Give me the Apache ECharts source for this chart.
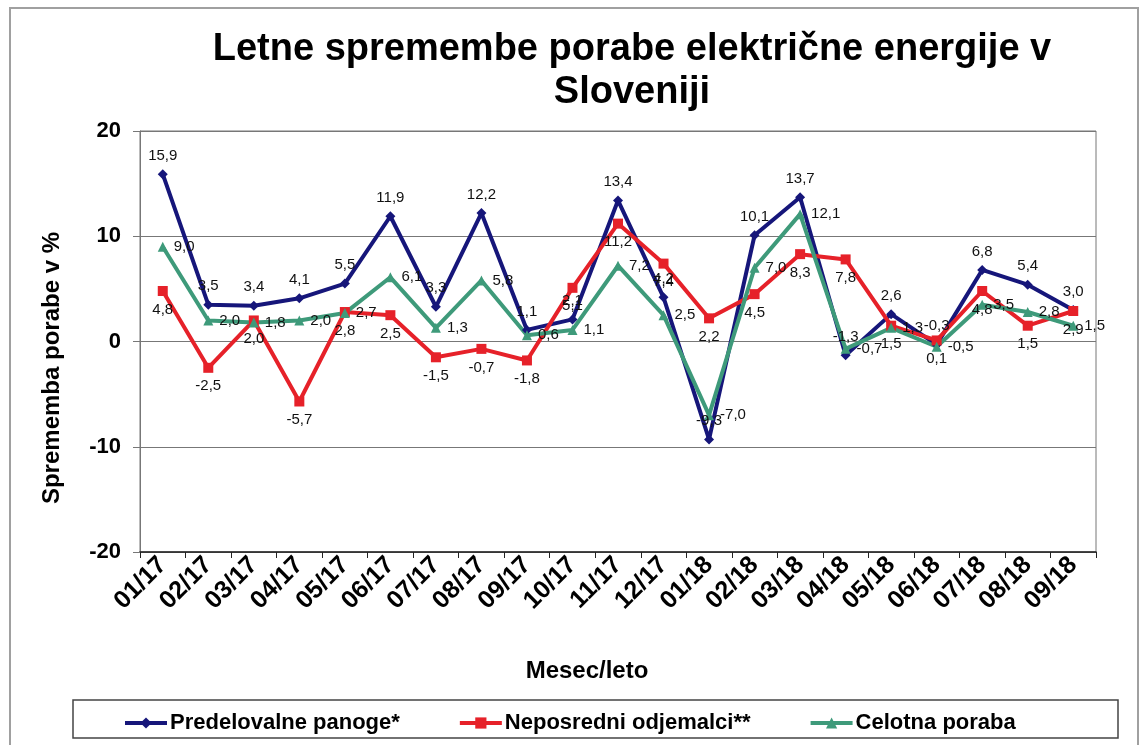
<!DOCTYPE html>
<html>
<head>
<meta charset="utf-8">
<script src="https://cdn.jsdelivr.net/npm/echarts@6/dist/echarts.min.js"></script>
<style>
html,body{margin:0;padding:0;background:#fff;}
#chart{width:1147px;height:745px;}
</style>
</head>
<body>
<div id="chart"></div>
<script>
const categories = ['01/17','02/17','03/17','04/17','05/17','06/17','07/17','08/17','09/17','10/17','11/17','12/17','01/18','02/18','03/18','04/18','05/18','06/18','07/18','08/18','09/18'];
const predelovalne = [15.9, 3.5, 3.4, 4.1, 5.5, 11.9, 3.3, 12.2, 1.1, 2.1, 13.4, 4.2, -9.3, 10.1, 13.7, -1.3, 2.6, -0.3, 6.8, 5.4, 3.0];
const neposredni  = [4.8, -2.5, 2.0, -5.7, 2.8, 2.5, -1.5, -0.7, -1.8, 5.1, 11.2, 7.4, 2.2, 4.5, 8.3, 7.8, 1.5, 0.1, 4.8, 1.5, 2.9];
const celotna     = [9.0, 2.0, 1.8, 2.0, 2.7, 6.1, 1.3, 5.8, 0.6, 1.1, 7.2, 2.5, -7.0, 7.0, 12.1, -0.7, 1.3, -0.5, 3.5, 2.8, 1.5];
const seriesNames = ['Predelovalne panoge*', 'Neposredni odjemalci**', 'Celotna poraba'];
const yTicks = [-20, -10, 0, 10, 20];
const titleText = 'Letne spremembe porabe električne energije v\nSloveniji';
const xAxisTitle = 'Mesec/leto';
const yAxisTitle = 'Sprememba porabe v %';

const FONT = '"Liberation Sans", Arial, sans-serif';
const fmt = v => v.toFixed(1).replace('.', ',');

const chart = echarts.init(document.getElementById('chart'));

function lineSeries(name, data, color, symbol, pos) {
  return {
    name: name,
    type: 'line',
    data: data,
    symbol: symbol,
    symbolSize: 10,
    lineStyle: { color: color, width: 4 },
    itemStyle: { color: color },
    label: {
      show: true,
      position: pos,
      distance: 6,
      color: '#111',
      fontFamily: FONT,
      fontSize: 15,
      formatter: p => fmt(p.value)
    },
    z: 3
  };
}

chart.setOption({
  animation: false,
  backgroundColor: '#fff',
  title: {
    text: titleText,
    left: 627,
    top: 23,
    textAlign: 'center',
    textStyle: { fontFamily: FONT, fontSize: 38, fontWeight: 'bold', color: '#000', lineHeight: 43 }
  },
  graphic: [
    { type: 'rect', shape: { x: 10, y: 8, width: 1128, height: 780 }, style: { fill: 'none', stroke: '#a0a0a0', lineWidth: 2 }, silent: true, z: -1 },
    { type: 'rect', shape: { x: 73, y: 700, width: 1045, height: 38 }, style: { fill: '#fff', stroke: '#444', lineWidth: 1.5 }, silent: true, z: 0 },
    { type: 'text', x: 52, y: 368, rotation: Math.PI / 2,
      style: { text: yAxisTitle, fontFamily: FONT, fontSize: 24, fontWeight: 'bold', fill: '#000', textAlign: 'center', textVerticalAlign: 'middle' }, silent: true },
    { type: 'text', x: 587, y: 671,
      style: { text: xAxisTitle, fontFamily: FONT, fontSize: 24, fontWeight: 'bold', fill: '#000', textAlign: 'center', textVerticalAlign: 'middle' }, silent: true }
  ],
  legend: {
    data: seriesNames,
    left: 118,
    top: 707,
    itemGap: 58,
    itemWidth: 42,
    itemHeight: 14,
    lineStyle: { width: 4 },
    textStyle: { fontFamily: FONT, fontSize: 22, fontWeight: 'bold', color: '#000', padding: [0, 0, 0, -2] },
    z: 5
  },
  grid: { left: 140, right: 51, top: 131, bottom: 193, show: true, borderColor: '#777', borderWidth: 1, backgroundColor: '#fff' },
  xAxis: {
    type: 'category',
    data: categories,
    boundaryGap: true,
    axisLine: { onZero: false, lineStyle: { color: '#222', width: 1.5 } },
    axisTick: { show: true, length: 6, lineStyle: { color: '#222' } },
    axisLabel: { rotate: 45, fontFamily: FONT, fontSize: 25, fontWeight: 'bold', color: '#000', margin: 9, interval: 0 }
  },
  yAxis: {
    type: 'value',
    min: yTicks[0],
    max: yTicks[yTicks.length - 1],
    interval: 10,
    axisLine: { show: true, lineStyle: { color: '#777', width: 1 } },
    axisTick: { show: true, length: 7, lineStyle: { color: '#777' } },
    axisLabel: { fontFamily: FONT, fontSize: 22, fontWeight: 'bold', color: '#000', margin: 19 },
    splitLine: { show: true, lineStyle: { color: '#777', width: 1 } }
  },
  series: [
    lineSeries(seriesNames[0], predelovalne, '#16167a', 'diamond', 'top'),
    lineSeries(seriesNames[1], neposredni, '#e62129', 'rect', 'bottom'),
    lineSeries(seriesNames[2], celotna, '#3e9a7a', 'triangle', 'right')
  ]
});
</script>
</body>
</html>
